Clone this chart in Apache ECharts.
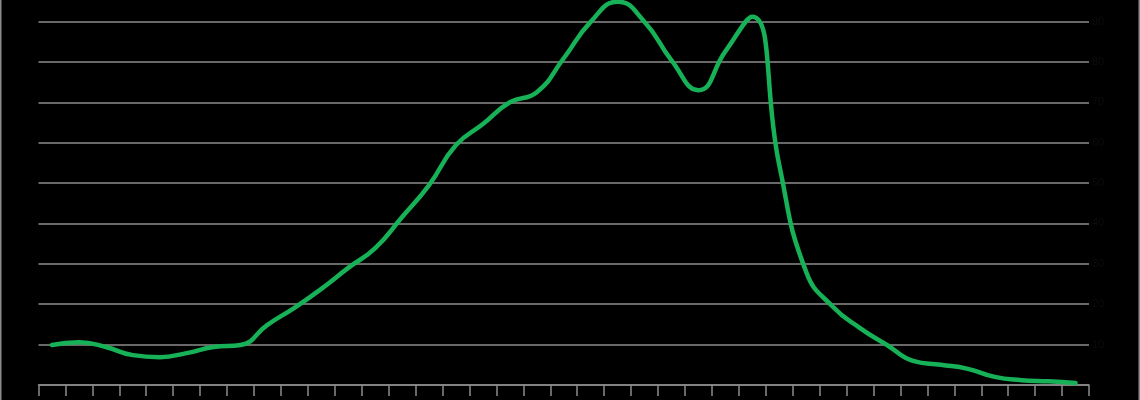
<!DOCTYPE html>
<html>
<head>
<meta charset="utf-8">
<script src="https://cdn.jsdelivr.net/npm/echarts@6/dist/echarts.min.js"></script>
<style>
  html, body { margin: 0; padding: 0; background: #000; }
  #chart { width: 1140px; height: 400px; }
</style>
</head>
<body>
<div id="chart"></div>
<script>
// 39 categories (one per x band)
const categories = Array.from({length: 39}, (_, i) => String(i + 1));
const values = [
  9.9, 10.6, 9.4, 7.4, 6.9, 7.9, 9.4, 9.9, 14.9, 19.1,
  23.8, 29.0, 33.9, 41.6, 49.5, 59.4, 64.6, 70.0, 72.5, 80.9,
  89.9, 94.9, 89.9, 80.4, 73.0, 82.6, 91.2, 54.5, 28.0, 19.3,
  14.1, 9.9, 5.9, 5.0, 4.0, 2.0, 1.2, 0.9, 0.5
];
const yTicks = [0, 10, 20, 30, 40, 50, 60, 70, 80, 90];

const chart = echarts.init(document.getElementById('chart'), null, {renderer: 'canvas'});
chart.setOption({
  backgroundColor: '#000',
  animation: false,
  grid: { left: 38.5, right: 51, top: 21.5, bottom: 15, containLabel: false },
  xAxis: {
    type: 'category',
    data: categories,
    boundaryGap: true,
    axisLine: { show: true, lineStyle: { color: '#8c8c8c', width: 1.5 } },
    axisTick: { show: true, length: 11, interval: 0, lineStyle: { color: '#8c8c8c', width: 1.5 } },
    axisLabel: { show: false },
    splitLine: { show: false }
  },
  yAxis: {
    type: 'value',
    position: 'right',
    min: yTicks[0],
    max: yTicks[yTicks.length - 1],
    interval: 10,
    axisLine: { show: false },
    axisTick: { show: false },
    axisLabel: { show: true, color: '#0c0c0c', fontSize: 11, margin: 3,
      fontFamily: 'Liberation Sans',
      formatter: v => (v === 0 ? '' : String(v)) },
    splitLine: { show: true, lineStyle: { color: '#8c8c8c', width: 1.5 } }
  },
  series: [{
    type: 'line',
    data: values,
    smooth: 0.5,
    clip: false,
    showSymbol: false,
    symbol: 'none',
    lineStyle: { color: '#17b257', width: 4.5, cap: 'round', join: 'round' }
  }],
  graphic: [
    { type: 'line', shape: { x1: 0.75, y1: 0, x2: 0.75, y2: 400 }, style: { stroke: '#8c8c8c', lineWidth: 1.5 }, silent: true },
    { type: 'line', shape: { x1: 1139.25, y1: 0, x2: 1139.25, y2: 400 }, style: { stroke: '#8c8c8c', lineWidth: 1.5 }, silent: true }
  ]
});
</script>
</body>
</html>
